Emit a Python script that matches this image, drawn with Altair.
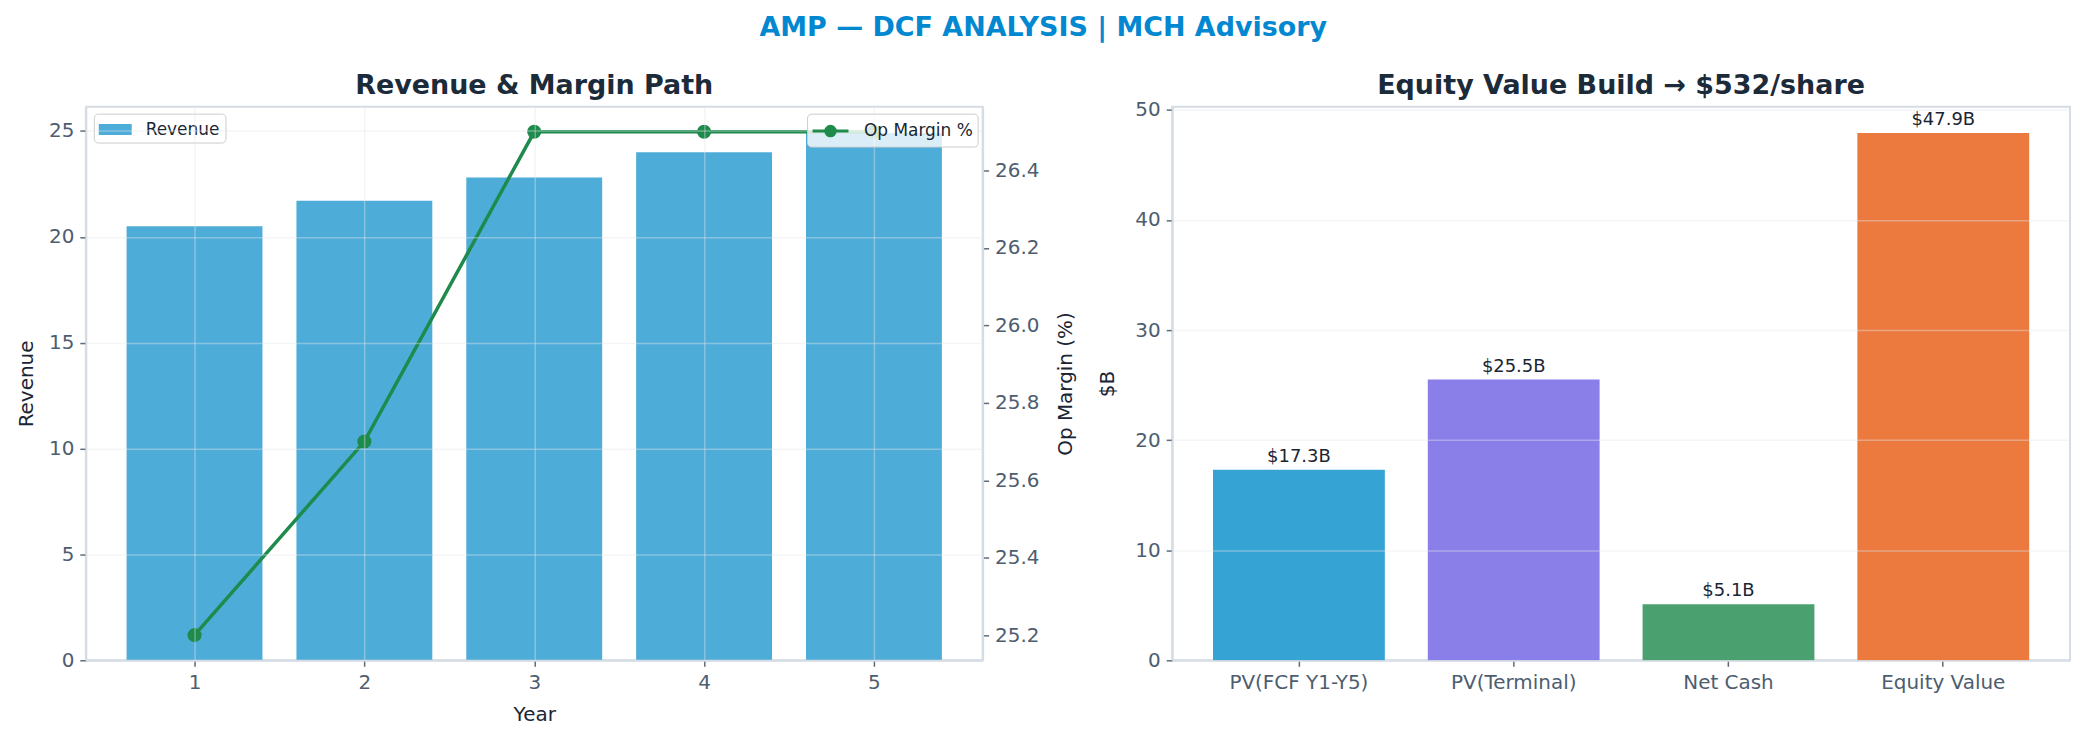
import altair as alt
import pandas as pd

# ---- data ----
years = [1, 2, 3, 4, 5]
revenue = [20.5, 21.7, 22.8, 24.0, 24.9]
op_margin = [25.2, 25.7, 26.5, 26.5, 26.5]

components = ["PV(FCF Y1-Y5)", "PV(Terminal)", "Net Cash", "Equity Value"]
values_b = [17.3, 25.5, 5.1, 47.9]
value_labels = ["$17.3B", "$25.5B", "$5.1B", "$47.9B"]
bar_colors = ["#35a3d3", "#8a7fe9", "#4aa06f", "#ec7a3f"]

rev_ticks = [0, 5, 10, 15, 20, 25]
om_ticks = [25.2, 25.4, 25.6, 25.8, 26.0, 26.2, 26.4]
eq_ticks = [0, 10, 20, 30, 40, 50]

FONT = "DejaVu Sans"
TITLE_COLOR = "#1c2b3a"
GREEN = "#1e8a4c"

rev_df = pd.DataFrame({
    "Year": years,
    "Revenue": revenue,
    "OpMargin": op_margin,
    "series_rev": ["Revenue"] * len(years),
    "series_om": ["Op Margin %"] * len(years),
})
eq_df = pd.DataFrame({"Component": components, "Value": values_b, "Label": value_labels})

# ---- left panel ----
xscale = alt.Scale(domain=[0.36, 5.64], nice=False, zero=False)
xaxis = alt.Axis(values=years, format="d", title="Year", grid=True, zindex=1)

base = alt.Chart(rev_df)

rev_bars = base.transform_calculate(
    x0="datum.Year - 0.4", x1="datum.Year + 0.4"
).mark_bar().encode(
    x=alt.X("x0:Q", scale=xscale, axis=xaxis, title="Year"),
    x2="x1:Q",
    y=alt.Y("Revenue:Q", scale=alt.Scale(domain=[0, 26.15], nice=False),
            axis=alt.Axis(values=rev_ticks, title="Revenue", grid=True, zindex=1)),
    y2=alt.datum(0),
    color=alt.Color("series_rev:N",
                    scale=alt.Scale(domain=["Revenue"], range=["#4eacd9"]),
                    legend=alt.Legend(
                        title=None, orient="none", legendX=8, legendY=7,
                        symbolType="M-1,-0.5L2,-0.5L2,0.5L-1,0.5Z",
                        symbolSize=484, labelOffset=25, padding=5,
                        symbolStrokeWidth=0, symbolStrokeColor="transparent")),
)

om_scale = alt.Scale(domain=[25.135, 26.565], nice=False, zero=False)
om_axis = alt.Axis(orient="right", values=om_ticks, format=".1f", title="Op Margin (%)",
                   titleAngle=270, titleBaseline="top", titlePadding=17, grid=False, zindex=1)

om_line = base.mark_line(strokeWidth=3.5).encode(
    x=alt.X("Year:Q", scale=xscale, axis=xaxis, title="Year"),
    y=alt.Y("OpMargin:Q", scale=om_scale, axis=om_axis),
    stroke=alt.Stroke("series_om:N",
                      scale=alt.Scale(domain=["Op Margin %"], range=[GREEN]),
                      legend=alt.Legend(
                          title=None, orient="none", legendX=723, legendY=7,
                          symbolType="M-1,0L2,0M0.5,-0.4A0.4,0.4 0 1,1 0.5,0.4A0.4,0.4 0 1,1 0.5,-0.4Z",
                          symbolSize=576, labelOffset=26, padding=4,
                          symbolFillColor=GREEN, symbolStrokeColor=GREEN,
                          symbolStrokeWidth=3)),
)
om_points = base.mark_circle(size=200, opacity=1, color=GREEN).encode(
    x=alt.X("Year:Q", scale=xscale, axis=xaxis, title="Year"),
    y=alt.Y("OpMargin:Q", scale=om_scale, axis=None),
)

left = alt.layer(rev_bars, om_line, om_points).resolve_scale(
    y="independent"
).properties(
    width=899, height=555,
    title=alt.TitleParams("Revenue & Margin Path", fontSize=27, fontWeight="bold",
                          color=TITLE_COLOR, font=FONT, offset=7),
)

# ---- right panel ----
xs = alt.X("Component:N", sort=components,
           scale=alt.Scale(paddingInner=0.2, paddingOuter=0.19),
           axis=alt.Axis(title=None, labelAngle=0, grid=False))
ys = alt.Y("Value:Q", scale=alt.Scale(domain=[0, 50.3], nice=False),
           axis=alt.Axis(values=eq_ticks, title="$B", grid=True, zindex=1, titlePadding=17))

eq_bars = alt.Chart(eq_df).mark_bar().encode(
    x=xs, y=ys,
    color=alt.Color("Component:N", scale=alt.Scale(domain=components, range=bar_colors), legend=None),
)
eq_text = alt.Chart(eq_df).mark_text(baseline="bottom", dy=-4, fontSize=18,
                                     color="#1a2533", font=FONT).encode(
    x=xs, y=ys, text="Label:N"
)
right = alt.layer(eq_bars, eq_text).properties(
    width=900, height=555,
    title=alt.TitleParams("Equity Value Build → $532/share", fontSize=27, fontWeight="bold",
                          color=TITLE_COLOR, font=FONT, offset=0),
)

chart = alt.hconcat(left, right, spacing=19).resolve_scale(
    color="independent"
).resolve_legend(
    color="independent"
).properties(
    title=alt.TitleParams("AMP — DCF ANALYSIS | MCH Advisory", fontSize=27, fontWeight="bold",
                          color="#0288d1", font=FONT, anchor="middle", offset=29),
    padding={"left": 7, "top": 5, "right": 5, "bottom": 5},
).configure(
    font=FONT,
).configure_view(
    stroke="#d5dce4", strokeWidth=2,
).configure_axis(
    domainColor="#d5dce4", domainWidth=2,
    tickColor="#5d6b7a", tickSize=6, tickWidth=1.5,
    labelColor="#4d5d70", labelFontSize=20, labelFont=FONT, labelPadding=6,
    titleColor="#1a2533", titleFontSize=20, titleFont=FONT, titleFontWeight="normal", titlePadding=12,
    gridColor="#e0e5ea", gridOpacity=0.4, gridWidth=1.5,
).configure_legend(
    labelFontSize=17, labelFont=FONT, labelColor="#1a2533",
    fillColor="rgba(255,255,255,0.8)", strokeColor="#cccccc", cornerRadius=4,
)

chart.save("out.html", embed_options={"renderer": "svg", "actions": False})
